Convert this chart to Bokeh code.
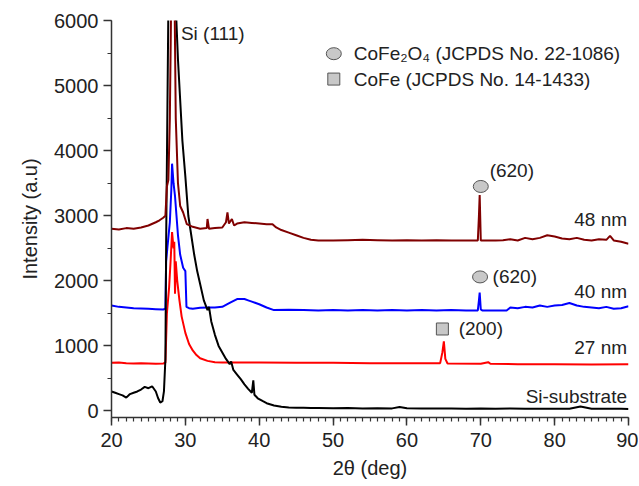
from bokeh.plotting import figure
from bokeh.embed import file_html
from bokeh.resources import INLINE
from bokeh.models import SingleIntervalTicker, Range1d
from bokeh.core.properties import value

# ---------------- data ----------------
si_x = [20, 20.5, 21, 21.5, 22, 22.5, 23, 23.5, 24, 24.5, 25, 25.5, 26, 26.3, 26.6, 26.9, 27.1, 27.3,
        27.4, 27.7, 28.0, 28.3, 28.6, 29.0, 29.6, 30.0, 30.4, 30.8, 31.2, 31.6, 32.0, 32.5, 33.0, 33.2,
        33.5, 34.0, 34.5, 35.0, 35.5, 36.0, 36.2, 36.5, 37.0, 37.5, 38.0, 38.5, 39.0, 39.2, 39.35, 39.8,
        40.5, 41, 42, 43, 44, 45, 46, 47, 48, 50, 52, 54, 56, 58, 59, 60, 62, 64, 66, 68, 70, 72, 74,
        76, 78, 80, 82, 83.5, 85, 87, 89, 90]
si_y = [300, 280, 260, 240, 205, 260, 280, 300, 330, 370, 350, 380, 300, 200, 130, 150, 300, 800,
        2600, 6200, 8000, 8500, 6500, 5400, 4150, 3600, 3000, 2700, 2400, 2150, 1950, 1700, 1550, 1600,
        1380, 1170, 1000, 900, 800, 720, 760, 630, 560, 490, 410, 340, 280, 470, 250, 195,
        150, 120, 85, 65, 55, 50, 48, 45, 45, 42, 45, 40, 42, 40, 60, 42, 40, 38, 40, 36, 38, 35, 37,
        35, 36, 34, 35, 70, 35, 33, 34, 32]

nm27_x = [20, 21, 22, 23, 24, 25, 26, 27, 27.3, 27.5, 27.8, 28.0, 28.2, 28.4, 28.5, 28.6, 28.7, 28.9,
          29.2, 29.5, 30, 30.5, 31, 31.5, 32, 33, 34, 35, 40, 45, 50, 55, 60, 64.5, 64.8, 65.0, 65.2,
          65.5, 70, 71, 71.3, 75, 80, 85, 90]
nm27_y = [740, 745, 735, 730, 735, 730, 725, 730, 740, 1500, 1900, 2300, 2750, 2500, 2600, 1800, 2300, 2000,
          1700, 1450, 1200, 1030, 930, 860, 810, 770, 750, 745, 745, 740, 740, 735, 735, 735, 900, 1070, 800,
          730, 725, 750, 725, 720, 720, 715, 720]

nm40_x = [20, 21, 22, 23, 24, 25, 26, 27, 27.3, 27.4, 27.6, 27.9, 28.1, 28.2, 28.4, 28.6, 28.8, 29.0,
          29.3, 29.7, 30.0, 30.15, 30.5, 31, 32, 33, 34, 35, 36, 37, 38, 38.5, 39, 40, 41, 42, 44, 46,
          48, 50, 52, 54, 56, 58, 60, 62, 64, 66, 68, 69.6, 69.75, 69.85, 70.0, 70.2, 73.5, 74, 75,
          76, 77, 78, 79, 80, 81, 82, 83, 84, 85, 86, 87, 88, 89, 90]
nm40_y = [1620, 1600, 1590, 1580, 1575, 1570, 1565, 1560, 1570, 2300, 2550, 2900, 3400, 3800, 3500, 3300, 3000, 2700,
          2400, 2200, 2150, 1600, 1580, 1570, 1585, 1590, 1590, 1600, 1660, 1720, 1720, 1700, 1680, 1640, 1590, 1550,
          1555, 1550, 1545, 1550, 1545, 1550, 1545, 1550, 1545, 1550, 1545, 1550, 1545, 1545, 1700, 1820, 1560,
          1545, 1545, 1590, 1580, 1600, 1590, 1620, 1600, 1620, 1630, 1660, 1620, 1600, 1590, 1580, 1600,
          1570, 1580, 1610]

nm48_x = [20, 21, 22, 23, 24, 25, 26, 26.5, 27, 27.3, 27.5, 27.7, 27.9, 28.1, 28.3, 28.5, 28.7, 29.0,
          29.3, 29.7, 30.2, 31, 32, 32.9, 33.0, 33.2, 34, 35, 35.5, 35.7, 35.9, 36.3, 36.6, 37, 38, 39,
          40, 41, 41.8, 42.3, 43, 44, 45, 46, 47, 48, 50, 52, 54, 56, 58, 60, 62, 64, 66, 68, 69.6,
          69.75, 69.85, 70.0, 72, 73, 74, 75, 76, 77, 78, 79, 80, 81, 82, 83, 84, 85, 86, 87, 87.5,
          88, 89, 90]
nm48_y = [2800, 2790, 2810, 2800, 2820, 2850, 2900, 2930, 2970, 3000, 3450, 3550, 4500, 6500, 7000, 6800, 4500, 3500,
          3150, 3050, 2870, 2830, 2800, 2810, 2950, 2800, 2810, 2820, 2900, 3050, 2880, 2950, 2850, 2880, 2900, 2890,
          2880, 2870, 2870, 2820, 2780, 2740, 2700, 2660, 2630, 2620, 2620, 2625, 2630, 2625, 2620, 2625, 2620,
          2625, 2620, 2620, 2620, 3000, 3320, 2620, 2620, 2625, 2640, 2620, 2660, 2640, 2660, 2700, 2680, 2650,
          2640, 2660, 2630, 2620, 2640, 2630, 2690, 2620, 2600, 2570]

sample_labels = ["48 nm", "40 nm", "27 nm", "Si-substrate"]
sample_label_y = [2950, 1830, 970, 230]

# ---------------- figure ----------------
p = figure(width=638, height=484, output_backend="svg", toolbar_location=None,
           x_range=Range1d(20, 90), y_range=Range1d(-100, 6000),
           min_border_left=111, min_border_right=10, min_border_top=20, min_border_bottom=67)
p.outline_line_color = None
p.xgrid.visible = False
p.ygrid.visible = False
p.background_fill_color = "white"
p.border_fill_color = "white"

FONT = "Liberation Sans"

p.xaxis.ticker = SingleIntervalTicker(interval=10, num_minor_ticks=10)
p.yaxis.ticker = SingleIntervalTicker(interval=1000, num_minor_ticks=2)
for ax in (p.xaxis[0], p.yaxis[0]):
    ax.axis_line_width = 1.5
    ax.axis_line_color = "#333333"
    ax.major_tick_line_width = 1.5
    ax.major_tick_line_color = "#333333"
    ax.minor_tick_line_width = 1.2
    ax.minor_tick_line_color = "#333333"
    ax.major_tick_in = 0
    ax.major_tick_out = 8
    ax.minor_tick_in = 0
    ax.minor_tick_out = 4
    ax.major_label_text_font = FONT
    ax.major_label_text_font_size = "20px"
    ax.major_label_text_color = "#222222"
    ax.axis_label_text_font = FONT
    ax.axis_label_text_font_size = "20px"
    ax.axis_label_text_font_style = "normal"
    ax.axis_label_text_color = "#222222"

p.xaxis.axis_label = "2θ (deg)"
p.yaxis.axis_label = "Intensity (a.u)"
p.xaxis.major_label_standoff = 7
p.yaxis.major_label_standoff = 5
p.xaxis.axis_label_standoff = 7
p.yaxis.axis_label_standoff = 10

# curves
p.line(nm27_x, nm27_y, line_color="#ff0000", line_width=2)
p.line(nm40_x, nm40_y, line_color="#0000ff", line_width=2)
p.line(si_x, si_y, line_color="#000000", line_width=2)
p.line(nm48_x, nm48_y, line_color="#800000", line_width=2)

ANN = "19px"
# sample labels
p.text(x=[89.8] * 4, y=sample_label_y, text=sample_labels, text_align="right", text_baseline="middle",
       text_font=value(FONT), text_font_size=ANN, text_color="#222222")

# Si peak label
p.text(x=[29.4], y=[5800], text=["Si (111)"], text_align="left", text_baseline="middle",
       text_font=value(FONT), text_font_size=ANN, text_color="#222222")

# peak markers and Miller indices
circ_x = [70.0, 69.9]
circ_y = [3450, 2060]
p.ellipse(x=circ_x, y=circ_y, width=15, height=12, width_units="screen", height_units="screen",
          fill_color="#c8c8c8", line_color="#555555", line_width=1)
p.scatter(x=[64.8], y=[1260], marker="square", size=12, fill_color="#c8c8c8",
          line_color="#555555", line_width=1)
p.text(x=[71.2, 71.6, 67.0], y=[3690, 2060, 1260], text=["(620)", "(620)", "(200)"],
       text_align="left", text_baseline="middle", text_font=value(FONT), text_font_size=ANN,
       text_color="#222222")

# legend (drawn as annotation-style entries)
p.ellipse(x=[50.1], y=[5490], width=15, height=12, width_units="screen", height_units="screen",
          fill_color="#c8c8c8", line_color="#555555", line_width=1)
p.scatter(x=[50.1], y=[5100], marker="square", size=12, fill_color="#c8c8c8",
          line_color="#555555", line_width=1)
p.text(x=[52.8, 52.8], y=[5490, 5100],
       text=["CoFe₂O₄ (JCPDS No. 22-1086)", "CoFe (JCPDS No. 14-1433)"],
       text_align="left", text_baseline="middle", text_font=value(FONT), text_font_size=ANN,
       text_color="#222222")

open("out.html", "w").write(file_html(p, INLINE))
